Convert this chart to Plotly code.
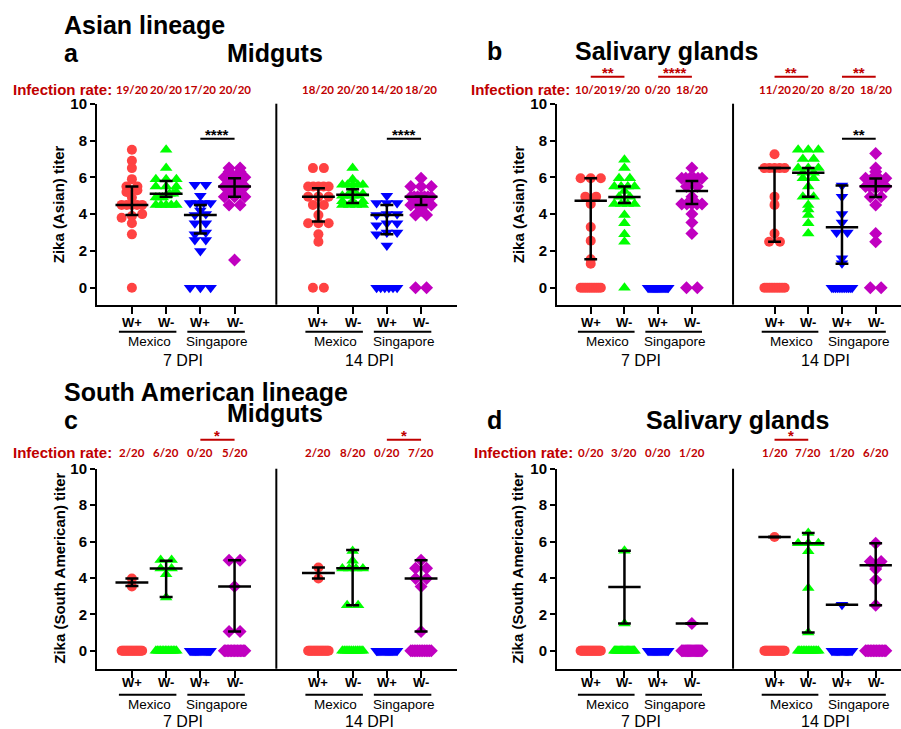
import plotly.graph_objects as go

# ---------------- data ----------------
dpi_labels = ["7 DPI", "14 DPI"]
strain_labels = ["Mexico", "Singapore"]
wol_labels = ["W+", "W-", "W+", "W-"]

# Panel a: Asian lineage, midguts
a7_mex_wp = [7.5, 6.9, 6.5, 5.9, 5.5, 5.5, 5.3, 5.2, 4.9, 4.5, 4.5, 4.5, 4.5, 4.5, 4.0, 3.9, 3.8, 3.5, 2.9, 0]
a7_mex_wm = [7.5, 6.5, 5.9, 5.9, 5.9, 5.5, 5.5, 5.5, 5.2, 5.1, 5.1, 5.0, 4.9, 4.9, 4.9, 4.5, 4.5, 4.5, 4.5, 4.5]
a7_sin_wp = [5.6, 5.6, 5.0, 4.6, 4.6, 4.6, 4.6, 4.2, 4.0, 3.95, 3.5, 3.5, 3.0, 2.9, 2.6, 2.6, 2.0, 0, 0, 0]
a7_sin_wm = [6.5, 6.5, 6.3, 6.3, 6.0, 6.0, 6.0, 5.7, 5.7, 5.5, 5.5, 5.5, 5.2, 5.2, 4.95, 4.95, 4.95, 4.5, 4.5, 1.5]
a14_mex_wp = [6.5, 6.5, 5.5, 5.5, 5.5, 5.5, 5.5, 4.95, 4.95, 4.95, 4.5, 4.5, 3.95, 3.5, 3.5, 3.5, 2.9, 2.5, 0, 0]
a14_mex_wm = [6.5, 5.9, 5.6, 5.6, 5.6, 5.6, 5.6, 5.3, 5.1, 5.0, 5.0, 5.0, 5.0, 4.7, 4.7, 4.7, 4.5, 4.5, 4.5, 4.5]
a14_sin_wp = [5.0, 4.6, 4.6, 4.6, 4.0, 4.0, 3.95, 3.5, 3.5, 3.4, 3.0, 3.0, 2.9, 2.3, 0, 0, 0, 0, 0, 0]
a14_sin_wm = [5.95, 5.5, 5.5, 5.5, 4.95, 4.95, 4.95, 4.95, 4.95, 4.95, 4.95, 4.5, 4.5, 4.5, 4.5, 4.2, 3.95, 3.95, 0, 0]
a_median = [4.5, 5.1, 3.95, 5.5, 4.95, 5.05, 3.95, 4.95]
a_q1 = [3.95, 4.95, 2.95, 4.95, 3.6, 4.6, 2.9, 4.5]
a_q3 = [5.5, 5.8, 4.5, 5.95, 5.4, 5.35, 4.5, 4.95]
a_rates = ["19/20", "20/20", "17/20", "20/20", "18/20", "20/20", "14/20", "18/20"]

# Panel b: Asian lineage, salivary glands
b7_mex_wp = [5.95, 5.95, 5.95, 4.95, 4.95, 4.55, 3.3, 2.55, 1.55, 1.3] + [0] * 10
b7_mex_wm = [6.95, 6.5, 5.95, 5.95, 5.5, 5.5, 5.5, 5.5, 5.25, 4.95, 4.95, 4.55, 4.55, 4.55, 4.55, 3.95, 3.5, 2.9, 2.5, 0]
b7_sin_wp = [0] * 20
b7_sin_wm = [6.5, 5.95, 5.95, 5.95, 5.95, 5.95, 5.95, 5.5, 5.5, 4.95, 4.55, 4.55, 4.55, 4.55, 4.55, 4.0, 3.55, 2.95, 0, 0]
b14_mex_wp = [7.25, 6.5, 6.5, 6.5, 6.5, 6.5, 4.95, 4.5, 2.95, 2.5, 2.5] + [0] * 9
b14_mex_wm = [7.5, 7.5, 7.5, 7.0, 7.0, 6.5, 6.5, 6.5, 6.25, 6.25, 5.95, 5.95, 5.5, 4.95, 4.95, 4.5, 4.25, 3.95, 3.5, 2.95]
b14_sin_wp = [5.55, 4.95, 4.0, 3.55, 3.0, 3.0, 1.6, 1.33] + [0] * 12
b14_sin_wm = [7.3, 6.5, 6.3, 5.95, 5.95, 5.95, 5.95, 5.5, 5.5, 5.5, 5.5, 5.5, 5.5, 4.95, 4.95, 4.5, 2.95, 2.5, 0, 0]
b_median = [4.72, 4.93, None, 5.25, 6.5, 6.25, 3.28, 5.52]
b_q1 = [1.55, 4.6, None, 4.55, 2.5, 4.95, 1.3, 4.93]
b_q3 = [5.95, 5.5, None, 5.8, 6.5, 6.5, 5.56, 5.94]
b_rates = ["10/20", "19/20", "0/20", "18/20", "11/20", "20/20", "8/20", "18/20"]

# Panel c: South American lineage, midguts
c7_mex_wp = [3.97, 3.53] + [0] * 18
c7_mex_wm = [4.99, 4.99, 4.52, 4.52, 4.2, 2.93] + [0] * 14
c7_sin_wp = [0] * 20
c7_sin_wm = [4.97, 4.97, 3.53, 1.06, 1.06] + [0] * 15
c14_mex_wp = [4.57, 3.97] + [0] * 18
c14_mex_wm = [5.48, 4.94, 4.52, 4.52, 4.52, 4.52, 2.5, 2.5] + [0] * 12
c14_sin_wp = [0] * 20
c14_sin_wm = [4.97, 4.53, 4.53, 3.97, 3.97, 3.53, 1.06] + [0] * 13
c_median = [3.75, 4.52, None, 3.53, 4.27, 4.53, None, 3.97]
c_q1 = [3.55, 2.95, None, 1.06, 3.97, 2.5, None, 1.06]
c_q3 = [3.97, 4.95, None, 4.97, 4.57, 5.54, None, 4.97]
c_rates = ["2/20", "6/20", "0/20", "5/20", "2/20", "8/20", "0/20", "7/20"]

# Panel d: South American lineage, salivary glands
d7_mex_wp = [0] * 20
d7_mex_wm = [5.5, 1.5] + [0] * 18
d7_sin_wp = [0] * 20
d7_sin_wm = [1.5] + [0] * 19
d14_mex_wp = [6.25] + [0] * 19
d14_mex_wm = [6.47, 5.9, 5.9, 5.9, 5.46, 3.44, 1.0] + [0] * 13
d14_sin_wp = [2.53] + [0] * 19
d14_sin_wm = [5.9, 4.9, 4.9, 4.49, 3.9, 2.5] + [0] * 14
d_median = [None, 3.5, None, 1.5, 6.25, 5.9, 2.53, 4.7]
d_q1 = [None, 1.5, None, 1.5, 6.25, 1.0, 2.53, 2.5]
d_q3 = [None, 5.5, None, 1.5, 6.25, 6.47, 2.53, 5.9]
d_rates = ["0/20", "3/20", "0/20", "1/20", "1/20", "7/20", "1/20", "6/20"]

# significance marks: (from group, to group, stars)
b_rate_sig = [(0, 1, "**"), (2, 3, "****"), (4, 5, "**"), (6, 7, "**")]
c_rate_sig = [(2, 3, "*"), (6, 7, "*")]
d_rate_sig = [(4, 5, "*")]
# in-plot significance: (from group, to group, titer level, stars)
a_sig = [(2, 3, 8.1, "****"), (6, 7, 8.1, "****")]
b_sig = [(6, 7, 8.1, "**")]

# ---------------- layout geometry ----------------
W, H = 901, 729
TOP_BAND, VSCALE = 8.3, 0.9876   # measured vertical mapping of the captured page
CATS = [0, 1, 2, 3, 5.45, 6.45, 7.45, 8.45]
SEP = 4.22
COLORS = ["#FF4242", "#00FF00", "#0000FF", "#C000C0"]
SYMBOLS = ["circle", "triangle-up", "triangle-down", "diamond"]
SIZES = [10, 11, 11, 10]
RED = "#C00000"
FONT = "Liberation Sans"


def px(x):
    return x / W


def py(y):
    return 1 - ((y - TOP_BAND) / VSCALE) / H


def swarm(vals, tol=0.12, span=0.6, step=0.32):
    order = sorted(range(len(vals)), key=lambda i: vals[i])
    offs = [0.0] * len(vals)
    groups, cur = [], [order[0]]
    for i in order[1:]:
        if vals[i] - vals[cur[-1]] <= tol:
            cur.append(i)
        else:
            groups.append(cur)
            cur = [i]
    groups.append(cur)
    for g in groups:
        n = len(g)
        if n < 2:
            continue
        s = min(step, span / (n - 1))
        for k, i in enumerate(g):
            offs[i] = (k - (n - 1) / 2) * s
    return offs


def text(t, x, y, xref="paper", yref="paper", xanchor="center", size=13, color="black", bold=False,
         family=FONT, angle=0):
    return dict(text=t, x=x, y=y, xref=xref, yref=yref, xanchor=xanchor, yanchor="middle", showarrow=False,
                textangle=angle,
                font=dict(family=family, size=size, color=color, weight="bold" if bold else "normal"))


panels = [
    dict(key="", data=[a7_mex_wp, a7_mex_wm, a7_sin_wp, a7_sin_wm, a14_mex_wp, a14_mex_wm, a14_sin_wp, a14_sin_wm],
         med=a_median, q1=a_q1, q3=a_q3, rates=a_rates, rsig=[], sig=a_sig,
         xd=(97, 457), xr=(-1.02, 9.5), yd=(304, 103), yr=(-0.924, 10),
         rate_y=89, rsig_y=76, rows=(322, 331, 341, 360), ytx=58, irx=11,
         ytitle="Zika (Asian) titer"),
    dict(key="2", data=[b7_mex_wp, b7_mex_wm, b7_sin_wp, b7_sin_wm, b14_mex_wp, b14_mex_wm, b14_sin_wp, b14_sin_wm],
         med=b_median, q1=b_q1, q3=b_q3, rates=b_rates, rsig=b_rate_sig, sig=b_sig,
         xd=(557, 901), xr=(-1.0, 9.2), yd=(304, 103), yr=(-0.924, 10),
         rate_y=89, rsig_y=76, rows=(322, 331, 341, 360), ytx=518, irx=469,
         ytitle="Zika (Asian) titer"),
    dict(key="3", data=[c7_mex_wp, c7_mex_wm, c7_sin_wp, c7_sin_wm, c14_mex_wp, c14_mex_wm, c14_sin_wp, c14_sin_wm],
         med=c_median, q1=c_q1, q3=c_q3, rates=c_rates, rsig=c_rate_sig, sig=[],
         xd=(97, 457), xr=(-1.02, 9.5), yd=(668, 468), yr=(-0.99, 10),
         rate_y=452, rsig_y=439, rows=(682, 694, 704, 721), ytx=60, irx=11,
         ytitle="Zika (South American) titer"),
    dict(key="4", data=[d7_mex_wp, d7_mex_wm, d7_sin_wp, d7_sin_wm, d14_mex_wp, d14_mex_wm, d14_sin_wp, d14_sin_wm],
         med=d_median, q1=d_q1, q3=d_q3, rates=d_rates, rsig=d_rate_sig, sig=[],
         xd=(557, 901), xr=(-1.0, 9.2), yd=(668, 468), yr=(-0.99, 10),
         rate_y=452, rsig_y=439, rows=(682, 694, 704, 721), ytx=518, irx=472,
         ytitle="Zika (South American) titer"),
]

fig = go.Figure()
annotations = []
shapes = []
layout = {}

for p in panels:
    k = p["key"]
    xa, ya = "x" + k, "y" + k
    # points
    for j, vals in enumerate(p["data"]):
        offs = swarm(vals)
        fig.add_trace(go.Scatter(
            x=[CATS[j] + o for o in offs], y=vals, xaxis=xa, yaxis=ya, mode="markers",
            marker=dict(symbol=SYMBOLS[j % 4], color=COLORS[j % 4], size=SIZES[j % 4], line=dict(width=0)),
            showlegend=False, hoverinfo="skip", cliponaxis=False))
    # median with interquartile range
    ex, ey = [], []
    for j in range(8):
        m = p["med"][j]
        if m is None:
            continue
        c = CATS[j]
        lo, hi = p["q1"][j], p["q3"][j]
        ex += [c - 0.48, c + 0.48, None, c - 0.19, c + 0.19, None, c - 0.19, c + 0.19, None, c, c, None]
        ey += [m, m, None, lo, lo, None, hi, hi, None, lo, hi, None]
    fig.add_trace(go.Scatter(x=ex, y=ey, xaxis=xa, yaxis=ya, mode="lines",
                             line=dict(color="black", width=2.5), showlegend=False, hoverinfo="skip",
                             cliponaxis=False))

    layout["xaxis" + k] = dict(domain=[px(p["xd"][0]), px(p["xd"][1])], range=list(p["xr"]), anchor=ya,
                               showline=True, linecolor="black", linewidth=2, ticks="outside", ticklen=7,
                               tickwidth=2, tickcolor="black", tickvals=CATS, showticklabels=False,
                               showgrid=False, zeroline=False)
    layout["yaxis" + k] = dict(domain=[py(p["yd"][0]), py(p["yd"][1])], range=list(p["yr"]), anchor=xa,
                               showline=True, linecolor="black", linewidth=2, ticks="outside", ticklen=5,
                               tickwidth=2, tickcolor="black", tickvals=[0, 2, 4, 6, 8, 10],
                               tickfont=dict(family=FONT, size=15, color="black", weight="bold"),
                               showgrid=False, zeroline=False)

    xref = "x" + k if k else "x"
    yref = "y" + k if k else "y"
    # separator between 7 and 14 DPI
    shapes.append(dict(type="line", xref=xref, yref=yref + " domain", x0=SEP, x1=SEP, y0=0, y1=1,
                       line=dict(color="black", width=2)))
    # y title
    annotations.append(text(p["ytitle"], px(p["ytx"]), py((p["yd"][0] + p["yd"][1]) / 2), size=15, bold=True,
                            angle=-90))
    # infection rate
    annotations.append(text("Infection rate:", px(p["irx"]), py(p["rate_y"]), xanchor="left", size=15,
                            color=RED, bold=True))
    for j, r in enumerate(p["rates"]):
        annotations.append(text(r, CATS[j], py(p["rate_y"]), xref=xref, size=11.5, color=RED, bold=True,
                                family="Lato"))
    for (g0, g1, st) in p["rsig"]:
        shapes.append(dict(type="line", xref=xref, yref="paper", x0=CATS[g0], x1=CATS[g1],
                           y0=py(p["rsig_y"]), y1=py(p["rsig_y"]), line=dict(color=RED, width=2)))
        annotations.append(text(st, (CATS[g0] + CATS[g1]) / 2, py(p["rsig_y"] - 4), xref=xref, size=15,
                                color=RED, bold=True))
    for (g0, g1, lvl, st) in p["sig"]:
        shapes.append(dict(type="line", xref=xref, yref=yref, x0=CATS[g0], x1=CATS[g1], y0=lvl, y1=lvl,
                           line=dict(color="black", width=2)))
        annotations.append(text(st, (CATS[g0] + CATS[g1]) / 2, lvl + 0.22, xref=xref, yref=yref, size=15,
                                bold=True))
    # x category labels
    r_w, r_line, r_str, r_dpi = p["rows"]
    for j in range(8):
        annotations.append(text(wol_labels[j % 4], CATS[j], py(r_w), xref=xref, size=13, bold=True))
    for d in range(2):
        base = 4 * d
        for s in range(2):
            c0, c1 = CATS[base + 2 * s], CATS[base + 2 * s + 1]
            shapes.append(dict(type="line", xref=xref, yref="paper", x0=c0 - 0.38, x1=c1 + 0.3,
                               y0=py(r_line), y1=py(r_line), line=dict(color="black", width=2)))
            annotations.append(text(strain_labels[s], (c0 + c1) / 2, py(r_str), xref=xref, size=13.5))
        annotations.append(text(dpi_labels[d], (CATS[base + 1] + CATS[base + 2]) / 2, py(r_dpi), xref=xref,
                                size=16))

# panel titles
titles = [
    ("Asian lineage", 62, 24, "left"), ("a", 62, 52, "left"), ("Midguts", 275, 52, "center"),
    ("b", 485, 50, "left"), ("Salivary glands", 666, 50, "center"),
    ("South American lineage", 62, 391, "left"), ("c", 62, 419, "left"), ("Midguts", 275, 412, "center"),
    ("d", 485, 419, "left"), ("Salivary glands", 737, 419, "center"),
]
for t, x, y, anc in titles:
    annotations.append(text(t, px(x), py(y), xanchor=anc, size=25, bold=True))

fig.update_layout(width=W, height=H, margin=dict(l=0, r=0, t=0, b=0), autosize=False,
                  paper_bgcolor="white", plot_bgcolor="white", showlegend=False,
                  annotations=annotations, shapes=shapes, **layout)

fig.write_html("out.html", include_plotlyjs=True, config={"displayModeBar": False},
               post_script=("document.documentElement.style.margin='0px';"
                            "document.body.style.margin='0px';document.body.style.padding='0px';"
                            "var gd=document.getElementById('{plot_id}');gd.style.position='absolute';"
                            "gd.style.left='0px';gd.style.top='0px';window.scrollTo(0,0);"))
